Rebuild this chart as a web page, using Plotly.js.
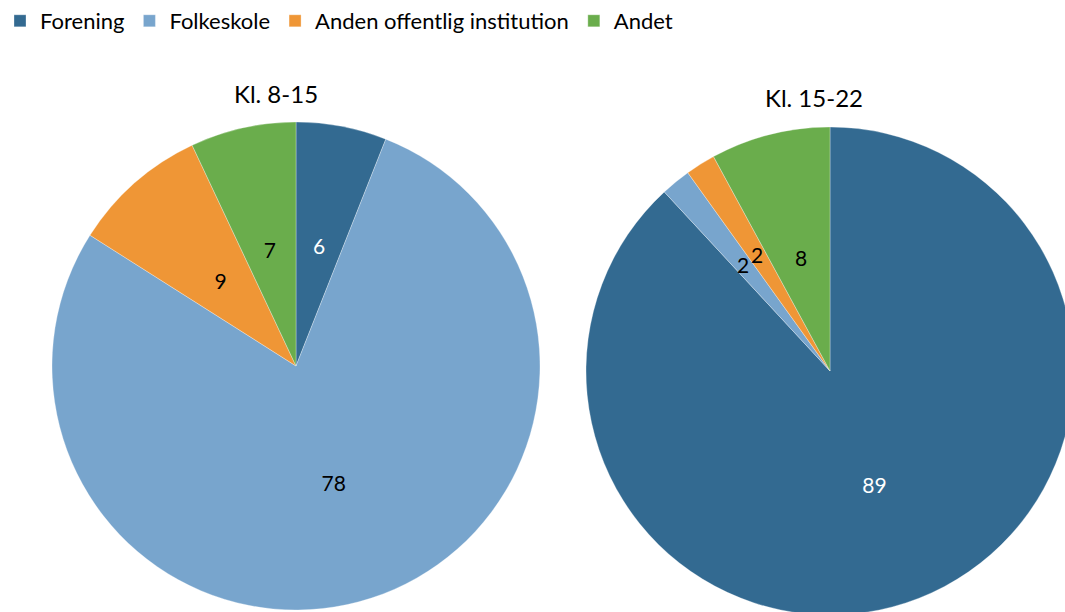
<!DOCTYPE html>
<html>
<head>
<meta charset="utf-8">
<script src="https://cdn.plot.ly/plotly-3.0.1.min.js"></script>
<style>
html,body{margin:0;padding:0;background:#fff;overflow:hidden;width:1065px;height:612px;}
#chart{width:1080px;height:620px;}
</style>
</head>
<body>
<div id="chart"></div>
<script>
const categories = ["Forening", "Folkeskole", "Anden offentlig institution", "Andet"];
const colors = ["#336A91", "#78A5CD", "#EF9636", "#6AAD4C"];
const valuesKl8to15 = [6, 78, 9, 7];
const valuesKl15to22 = [89, 2, 2, 8];
const pieTitles = ["Kl. 8-15", "Kl. 15-22"];

const W = 1080, H = 620;
const FONT = "Lato, 'Open Sans', sans-serif";
const textColors = ["#ffffff", "#000000", "#000000", "#000000"];
const LABEL_SIZE = 21;

// big slices get their label from the full pie, small ones from an inner transparent copy
function bigMask(values) {
  const total = values.reduce((a, b) => a + b, 0);
  return values.map(v => v / total > 0.5);
}

function pie(values, cx, cy, r) {
  const big = bigMask(values);
  return {
    type: "pie",
    labels: categories,
    values: values,
    sort: false,
    direction: "clockwise",
    rotation: 0,
    marker: {colors: colors, line: {color: "rgba(255,255,255,0.6)", width: 0.5}},
    texttemplate: big.map(b => b ? "%{value}" : ""),
    textposition: "inside",
    insidetextorientation: "horizontal",
    insidetextfont: {family: FONT, size: LABEL_SIZE, color: textColors},
    hoverinfo: "label+value",
    domain: {x: [(cx - r) / W, (cx + r) / W], y: [1 - (cy + r) / H, 1 - (cy - r) / H]}
  };
}

function labelPie(values, cx, cy, r) {
  const big = bigMask(values);
  return {
    type: "pie",
    labels: categories,
    values: values,
    sort: false,
    direction: "clockwise",
    rotation: 0,
    showlegend: false,
    marker: {colors: categories.map(() => "rgba(0,0,0,0)"), line: {width: 0}},
    texttemplate: big.map(b => b ? "" : "%{value}"),
    textposition: "inside",
    insidetextorientation: "horizontal",
    insidetextfont: {family: FONT, size: LABEL_SIZE, color: textColors},
    hoverinfo: "skip",
    domain: {x: [(cx - r) / W, (cx + r) / W], y: [1 - (cy + r) / H, 1 - (cy - r) / H]}
  };
}

const R = 244, RIN = 146;
const data = [
  pie(valuesKl8to15, 296, 366, R),
  pie(valuesKl15to22, 830, 371, R),
  labelPie(valuesKl8to15, 296, 366, RIN),
  labelPie(valuesKl15to22, 830, 371, RIN)
];

const layout = {
  width: W, height: H,
  margin: {l: 0, r: 0, t: 0, b: 0},
  paper_bgcolor: "#ffffff",
  font: {family: FONT, color: "#000000"},
  uniformtext: {mode: "show", minsize: LABEL_SIZE},
  showlegend: true,
  legend: {
    orientation: "h", x: 0, y: 1, xanchor: "left", yanchor: "top",
    font: {family: FONT, size: 22, color: "#000000"},
    itemwidth: 30, traceorder: "normal"
  },
  annotations: [
    {text: pieTitles[0], x: 276 / W, y: 1 - 93 / H, xref: "paper", yref: "paper", showarrow: false, xanchor: "center", yanchor: "middle", font: {family: FONT, size: 24, color: "#000"}},
    {text: pieTitles[1], x: 814 / W, y: 1 - 97 / H, xref: "paper", yref: "paper", showarrow: false, xanchor: "center", yanchor: "middle", font: {family: FONT, size: 24, color: "#000"}}
  ]
};

Plotly.newPlot("chart", data, layout, {displayModeBar: false, staticPlot: true});
</script>
</body>
</html>
